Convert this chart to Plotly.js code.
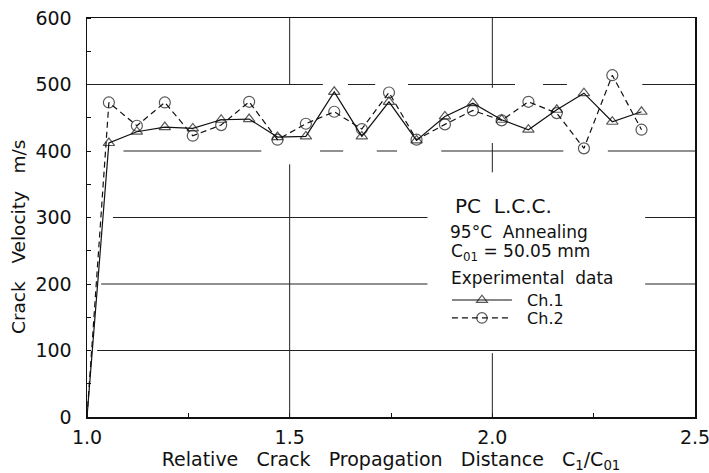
<!DOCTYPE html>
<html>
<head>
<meta charset="utf-8">
<script src="https://cdn.plot.ly/plotly-3.0.1.min.js"></script>
<style>html,body{margin:0;padding:0;background:#fff;}#chart{width:709px;height:473px;}</style>
</head>
<body>
<div id="chart"></div>
<script>
// Relative crack propagation distance C1/C01
const distance = [1.0, 1.054, 1.123, 1.192, 1.261, 1.331, 1.400, 1.470, 1.540, 1.610, 1.678, 1.745, 1.813, 1.883, 1.952, 2.023, 2.089, 2.159, 2.226, 2.296, 2.368];
// Crack velocity (m/s)
const ch1Velocity = [0, 412, 429, 436, 434, 447, 448, 421, 422, 489, 422, 474, 416, 452, 472, 447, 432, 462, 487, 444, 459];
const ch2Velocity = [0, 473, 438, 473, 423, 439, 474, 417, 441, 459, 433, 488, 417, 440, 461, 446, 474, 457, 404, 514, 432];
const seriesNames = ['Ch.1', 'Ch.2'];
const yTickVals = [0, 100, 200, 300, 400, 500, 600];
const xTickVals = [1.0, 1.5, 2.0, 2.5];
const xTickText = ['1.0', '1.5', '2.0', '2.5'];

const FONT = 'DejaVu Sans, Liberation Sans, sans-serif';
const INK = '#111';
const NB = '\u00a0';
const hideFirst = (s) => distance.map((v, i) => i === 0 ? 0 : s);

// broken grid segments (as drawn in the original figure)
const hSegs = [
  [500, [[1.0, 1.582], [1.644, 1.711], [1.792, 2.056], [2.125, 2.184], [2.37, 2.5]]],
  [400, [[1.09, 1.43], [1.575, 1.632], [1.715, 1.765], [1.874, 2.175], [2.285, 2.5]]],
  [300, [[1.064, 1.84], [2.377, 2.5]]],
  [200, [[1.035, 1.84], [2.377, 2.5]]],
  [100, [[1.025, 2.5]]]
];
const vSegs = [
  [1.5, [[500, 600], [0, 380]]],
  [2.0, [[495, 600], [368, 412], [0, 96]]]
];
const shapes = [];
hSegs.forEach(([y, segs]) => segs.forEach(([a, b]) => shapes.push({type: 'line', xref: 'x', yref: 'y', x0: a, x1: b, y0: y, y1: y, line: {color: '#222', width: 1}})));
vSegs.forEach(([x, segs]) => segs.forEach(([a, b]) => shapes.push({type: 'line', xref: 'x', yref: 'y', x0: x, x1: x, y0: a, y1: b, line: {color: '#222', width: 1}})));

const traces = [
  {
    x: distance, y: ch1Velocity, name: NB + NB + seriesNames[0], type: 'scatter', mode: 'lines+markers',
    legend: 'legend',
    line: {color: INK, width: 1.2},
    marker: {symbol: 'triangle-up-open', size: hideFirst(10), color: INK, line: {width: 1.2, color: INK}}
  },
  {
    x: distance, y: ch2Velocity, name: NB + NB + seriesNames[1], type: 'scatter', mode: 'lines+markers',
    legend: 'legend2',
    line: {color: INK, width: 1.2, dash: '6px,4px'},
    marker: {symbol: 'circle-open', size: hideFirst(11), color: INK, line: {width: 1.2, color: INK}}
  }
];

const legendBase = {
  xanchor: 'left', yanchor: 'middle', bgcolor: 'rgba(0,0,0,0)',
  font: {size: 16, family: FONT, color: INK}, itemwidth: 60
};

const layout = {
  width: 709, height: 473,
  margin: {l: 87, r: 14, t: 18, b: 56},
  paper_bgcolor: '#fff', plot_bgcolor: '#fff',
  font: {family: FONT, color: INK},
  showlegend: true,
  legend: Object.assign({x: 0.592, y: 0.293}, legendBase),
  legend2: Object.assign({x: 0.592, y: 0.248}, legendBase),
  xaxis: {
    range: [1.0, 2.5], tickvals: xTickVals, ticktext: xTickText,
    showgrid: false, zeroline: false, showline: true, mirror: true, linecolor: INK, linewidth: 1.5,
    ticks: '', ticklabelstandoff: 3, ticklabeloverflow: 'allow',
    tickfont: {size: 19, family: FONT, color: INK},
    minor: {dtick: 0.25, tick0: 1.0, ticks: 'inside', ticklen: 4, tickcolor: INK, showgrid: false},
    automargin: false,
    title: {text: 'Relative' + NB + NB + NB + 'Crack' + NB + NB + NB + 'Propagation' + NB + NB + NB + 'Distance' + NB + NB + NB + 'C<sub>1</sub>/C<sub>01</sub>', font: {size: 19, family: FONT, color: INK}, standoff: 4}
  },
  yaxis: {
    range: [0, 600], tickvals: yTickVals,
    showgrid: false, zeroline: false, showline: true, mirror: true, linecolor: INK, linewidth: 1.5,
    ticks: '', ticklabelstandoff: 10, tickfont: {size: 19, family: FONT, color: INK},
    minor: {dtick: 50, tick0: 0, ticks: 'inside', ticklen: 4, tickcolor: INK, showgrid: false},
    automargin: false
  },
  shapes: shapes,
  annotations: [
    {text: 'Crack' + NB + NB + NB + 'Velocity' + NB + NB + NB + 'm/s', textangle: -90, x: -0.1135, y: 0.4536, xref: 'paper', yref: 'paper', xanchor: 'center', yanchor: 'middle', showarrow: false, font: {size: 18.5, family: FONT, color: INK}},
    {text: 'PC' + NB + NB + 'L.C.C.', x: 1.903, y: 317, xref: 'x', yref: 'y', xanchor: 'left', yanchor: 'middle', showarrow: false, font: {size: 20, family: FONT, color: INK}},
    {text: '95\u00b0C' + NB + NB + 'Annealing', x: 1.890, y: 278, xref: 'x', yref: 'y', xanchor: 'left', yanchor: 'middle', showarrow: false, font: {size: 17, family: FONT, color: INK}},
    {text: 'C<sub>01</sub> = 50.05 mm', x: 1.893, y: 247, xref: 'x', yref: 'y', xanchor: 'left', yanchor: 'middle', showarrow: false, font: {size: 17, family: FONT, color: INK}},
    {text: 'Experimental' + NB + NB + 'data', x: 1.893, y: 209, xref: 'x', yref: 'y', xanchor: 'left', yanchor: 'middle', showarrow: false, font: {size: 17, family: FONT, color: INK}}
  ]
};

Plotly.newPlot('chart', traces, layout, {displayModeBar: false, staticPlot: true});
</script>
</body>
</html>
